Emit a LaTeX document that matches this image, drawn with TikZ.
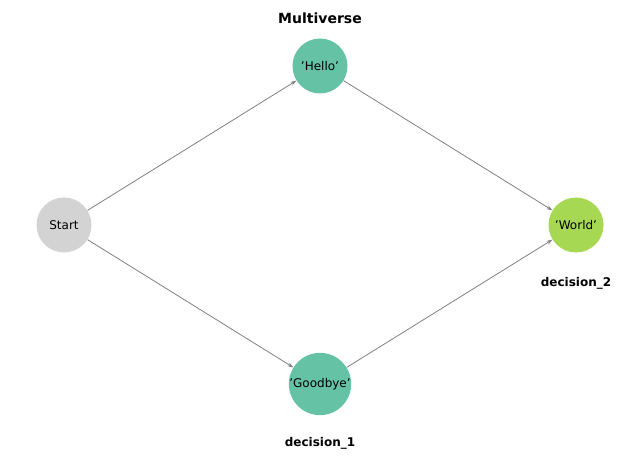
\documentclass[tikz,border=0pt]{standalone}
\usepackage{fontspec}
\setmainfont{DejaVu Sans}
\usetikzlibrary{arrows.meta}
\definecolor{teal}{HTML}{66C2A5}
\definecolor{lgreen}{HTML}{A6D854}
\definecolor{lgrey}{HTML}{D3D3D3}
\begin{document}
\begin{tikzpicture}[x=1pt,y=-1pt,
  n/.style={circle,minimum size=55pt,inner sep=0pt,font=\fontsize{12}{14}\selectfont},
  e/.style={draw=gray,line width=0.8pt,-{Stealth[length=6pt,width=4pt]}},
  lab/.style={font=\bfseries\fontsize{12}{14}\selectfont}]
\useasboundingbox (0,0) rectangle (640,462);
\node[font=\bfseries\fontsize{14}{16}\selectfont] (title) at (320,18) {Multiverse};
\node[n,fill=lgrey] (s) at (64,225) {Start};
\node[n,fill=teal] (h) at (320,66) {'Hello'};
\node[n,fill=teal] (g) at (320,384) {'Goodbye'};
\node[n,fill=lgreen] (w) at (576,225) {'World'};
\node[lab] (d2) at (576,283) {decision\_2};
\node[lab] (d1) at (320,443) {decision\_1};
\draw[e] (s) -- (h);
\draw[e] (s) -- (g);
\draw[e] (h) -- (w);
\draw[e] (g) -- (w);
\end{tikzpicture}
\end{document}
